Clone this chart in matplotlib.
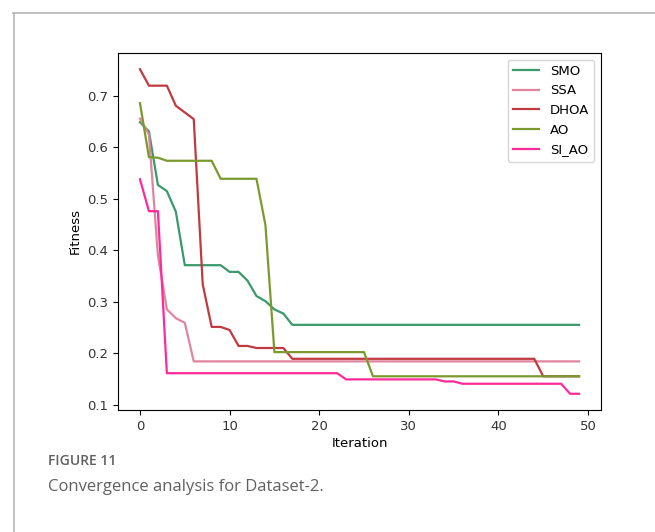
import matplotlib
matplotlib.use("Agg")
import matplotlib.pyplot as plt
from matplotlib.lines import Line2D
import numpy as np

# convergence curves (50 iterations each)
iterations = np.arange(50)

smo = [0.649, 0.631, 0.527, 0.515, 0.475, 0.371, 0.371, 0.371, 0.371, 0.371,
       0.358, 0.358, 0.341, 0.311, 0.301, 0.285, 0.277] + [0.255] * 33
ssa = [0.656, 0.625, 0.39, 0.285, 0.268, 0.259] + [0.184] * 44
dhoa = [0.752, 0.72, 0.72, 0.72, 0.681, 0.668, 0.655, 0.334, 0.251, 0.251,
        0.245, 0.214, 0.214, 0.21, 0.21, 0.21, 0.21] + [0.189] * 28 + [0.155] * 5
ao = [0.686, 0.581, 0.58, 0.574, 0.574, 0.574, 0.574, 0.574, 0.574, 0.539,
      0.539, 0.539, 0.539, 0.539, 0.449] + [0.202] * 11 + [0.155] * 24
si_ao = [0.538, 0.476, 0.476] + [0.161] * 20 + [0.149] * 11 + [0.145, 0.145] \
        + [0.1405] * 12 + [0.121, 0.121]

series = ["SMO", "SSA", "DHOA", "AO", "SI_AO"]
colors = ["#3a9a6b", "#e0849f", "#c03a3f", "#7a9a2e", "#ff2a9a"]

fig = plt.figure(figsize=(6.55, 5.32), dpi=100)
ax = fig.add_axes([0.1802, 0.2293, 0.7374, 0.6711])

for name, vals, col in zip(series, [smo, ssa, dhoa, ao, si_ao], colors):
    ax.plot(iterations, vals, color=col, linewidth=1.6, label=name)

ax.set_xlabel("Iteration", fontsize=9.5, labelpad=3)
ax.set_ylabel("Fitness", fontsize=9.5)
ax.tick_params(labelsize=9.5, labelcolor="#333333")
ax.set_yticks([0.1, 0.2, 0.3, 0.4, 0.5, 0.6, 0.7])
ax.legend(loc="upper right", fontsize=9.5)

# page frame (top and left rules of the figure panel)
fig.add_artist(Line2D([13 / 655, 1.0], [1 - 13 / 532] * 2, color="#b5b5b5", lw=1.2))
fig.add_artist(Line2D([14 / 655] * 2, [0.0, 1 - 13 / 532], color="#b5b5b5", lw=1.2))

fig.text(48 / 655, 1 - 461 / 532, "FIGURE 11", fontsize=10, color="#606060",
         family=["Open Sans", "DejaVu Sans"], fontweight="semibold", va="center")
fig.text(48 / 655, 1 - 487 / 532, "Convergence analysis for Dataset-2.", fontsize=12,
         color="#606060", family=["Open Sans", "DejaVu Sans"], va="center")

fig.savefig("out.png", dpi=100)
